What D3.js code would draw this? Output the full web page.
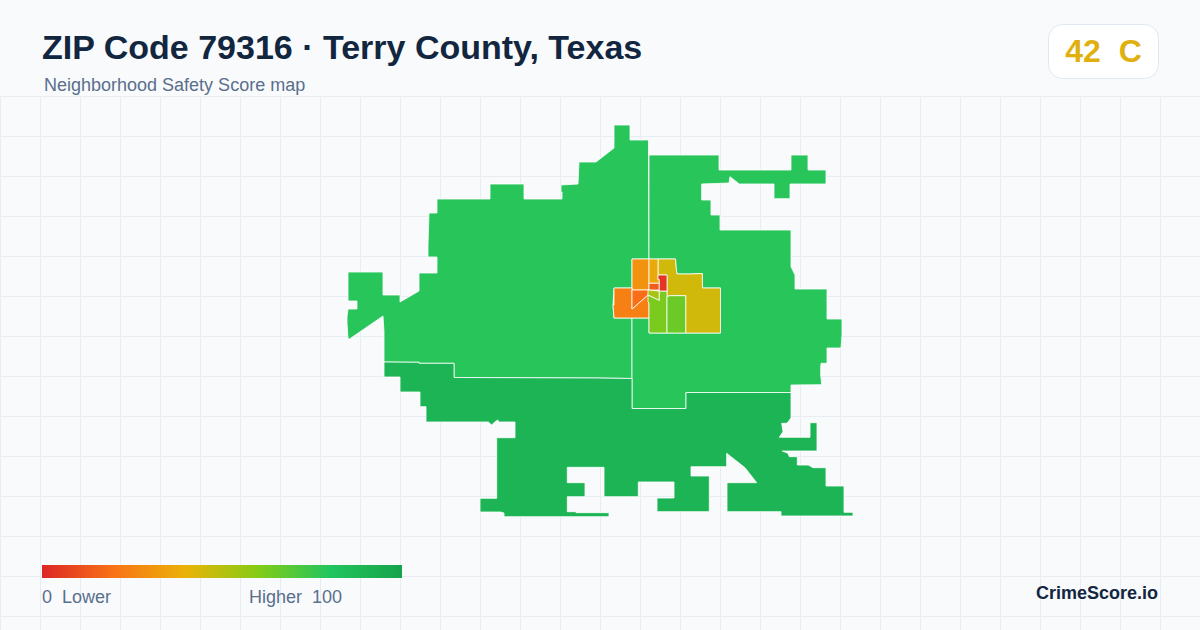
<!DOCTYPE html>
<html>
<head>
<meta charset="utf-8">
<script src="https://cdn.jsdelivr.net/npm/d3@7"></script>
<style>
html, body { margin: 0; padding: 0; background: #f8fafc; }
svg { display: block; font-family: "Liberation Sans", Arial, sans-serif; }
text { white-space: pre; }
</style>
</head>
<body>
<svg id="board" width="1200" height="630"></svg>
<script>
// map rings are in map units, tract score 0-100
let northWest = [[84,262],[84,232],[83,216],[49.5,239],[48,238.5],[47,223],[47,217],[48,209],[57,209],[57,201],[48,201],[48,172],[83,172],[83,195],[100,195],[100,202],[119,191],[119,173],[137,173],[137,157],[128,157],[128,145],[129,113],[137,113],[137,99],[190,99],[190,84],[224,84],[224,99],[262,99],[262,92],[261,92],[261,85],[278,84],[279,62],[296,62],[314,48],[314,25],[330,25],[330,40],[348.5,40],[348.5,55],[349,159],[332,159],[332,188],[314,188],[313,205],[314,218],[332,218],[332,278.5],[297,278],[154,277.5],[154,263.3],[119,263.3],[119,262.3]]
let east = [[349,55],[419,55],[419,70],[491,70],[491,55],[508,55],[508,70],[526,70],[526,84],[490,84],[490,98.7],[474,98.7],[474,84],[439.3,84],[430,76.7],[429,83],[401.7,84],[401.7,100],[411,100],[411,115],[420,115],[420,130],[491,130],[491,166.7],[495,175],[495,189],[527,189],[527,219],[542,219],[542,235],[541,248],[527,248],[527,263.3],[521,263.3],[520.7,268],[520.7,275],[521.7,284.7],[491,285],[491,292.5],[386,292.5],[386,308.5],[332,308.5],[332,218],[349,218],[349,233],[420.5,233],[420.5,188],[402.5,188],[402.3,173.5],[390,174],[377,174],[376,167],[375.5,159],[349,159]]
let south = [[84,262],[119,262.3],[119,263.3],[154,263.3],[154,277.5],[297,278],[332,278.5],[332,308.5],[386,308.5],[386,292.5],[491,292.5],[491,318],[487,323.3],[481.7,323.3],[483,331.7],[479.3,337.3],[510,337.3],[510,322.7],[517,322.7],[517,351],[482.3,351],[488,353.3],[489.3,356.7],[497.3,356.7],[497.3,365],[508.3,365],[513,367.7],[526,367.7],[526,386],[544,386],[544,412.3],[553,412.3],[553,416],[481,416],[481,411.7],[427,411.7],[427,382.7],[456.7,382.7],[445,367.7],[426.7,353.3],[426.7,366.7],[391,366.7],[391,376],[409.3,376],[409.3,411.7],[357,411.7],[357,398],[374,398],[374,382],[338.3,382],[338.3,396.7],[304,396.7],[304,367.3],[267.3,367.3],[267.3,382.7],[285,382.7],[285,396.7],[267.3,396.7],[267.3,411.7],[276,411.7],[276,412.7],[309,412.7],[309,416.7],[204,416.7],[204,413],[200.7,412],[180,412],[180,398.3],[196.7,398.3],[196.7,337.7],[215,337.7],[215,322],[198.3,322],[198,320],[195,321.7],[191.7,325],[188.3,322],[126,322],[126,306.7],[120,306.7],[120,292],[100,292],[100,277],[84,277]]
let upperOrange = [[332,159],[349,159],[349,190],[332,190]]
let westOrange = [[314,188],[332,188],[332,209],[348,195],[349,197],[349,218],[314,218],[313,205],[314,205]]
let darkOrange = [[332,190],[349,190],[348,195],[332,209]]
let narrowYellow = [[349,159],[358,159],[358,179.5],[359.3,179.5],[359.3,183.3],[349,183.3]]
let smallRed = [[349,183.3],[359.3,183.3],[359.3,190],[349,190]]
let core = [[358,175],[367,175],[367,191],[359.3,191],[359.3,179.5],[358,179.5]]
let yellowGreen = [[348,190],[359.3,191],[359.3,200.5],[349,195.5],[348,196]]
let midGreen = [[349,233],[367,233],[367,191],[359.3,191],[359.3,200.5],[349,195.5],[348,196],[348,202],[349,203]]
let lime = [[367,233],[385.7,233],[385.7,195.7],[370,195.7],[367,196.5]]
let olive = [[358,159],[375.5,159],[376,167],[377,174],[390,174],[402.3,173.5],[402.5,188],[420.5,188],[420.5,233],[385.7,233],[385.7,195.7],[370,195.7],[367,196.5],[367,175],[358,175]]

let tractRings = [northWest, east, south, olive, upperOrange, westOrange, darkOrange, narrowYellow, smallRed, yellowGreen, midGreen, lime, core]
let tractScores = [79, 79, 90, 45, 30, 24, 19, 37, 14, 53, 62, 65, 4]

let scoreStops = [0, 20, 40, 60, 80, 100]
let stopColors = ['#dc2626', '#f97316', '#eab308', '#84cc16', '#22c55e', '#16a34a']

let titleText = 'ZIP Code 79316 · Terry County, Texas'
let subtitleText = 'Neighborhood Safety Score map'
let badgeText = '42  C'

let board = d3.select('#board')
let xScale = d3.scaleLinear().domain([0, 600]).range([300, 900])
let yScale = d3.scaleLinear().domain([0, 450]).range([100, 550])
let colorScale = d3.scaleLinear().domain(scoreStops).range(stopColors)
let ringPath = d3.line()
    .x((p) => xScale(p[0]))
    .y((p) => yScale(p[1]))
    .curve(d3.curveLinearClosed)

let defs = board.append('defs')

let grid = defs.append('pattern')
    .attr('id', 'grid')
    .attr('width', 40)
    .attr('height', 40)
    .attr('patternUnits', 'userSpaceOnUse')
    .attr('y', 96)
grid.append('path')
    .attr('d', 'M40 0.5H0.5V40')
    .attr('fill', 'none')
    .attr('stroke', '#e7edf2')
    .attr('stroke-width', 1)

let ramp = defs.append('linearGradient').attr('id', 'ramp')
ramp.selectAll('stop')
    .data(scoreStops)
    .enter()
    .append('stop')
    .attr('offset', (s) => s + '%')
    .attr('stop-color', (s) => colorScale(s))

board.append('rect').attr('width', 1200).attr('height', 630).attr('fill', '#f8fafc')
board.append('rect').attr('y', 96).attr('width', 1200).attr('height', 534).attr('fill', 'url(#grid)')

board.append('g')
    .selectAll('path')
    .data(tractRings)
    .enter()
    .append('path')
    .attr('d', (r) => ringPath(r))
    .attr('fill', (r, i) => colorScale(tractScores[i]))
    .attr('stroke', '#ffffff')
    .attr('stroke-width', 0.8)
    .attr('stroke-linejoin', 'miter')

board.append('text')
    .attr('x', 42)
    .attr('y', 59)
    .attr('font-size', 34)
    .attr('font-weight', 700)
    .attr('fill', '#12263f')
    .text(titleText)

board.append('text')
    .attr('x', 44)
    .attr('y', 91)
    .attr('font-size', 18)
    .attr('fill', '#5a6f8c')
    .text(subtitleText)

board.append('rect')
    .attr('x', 1048.5)
    .attr('y', 24.5)
    .attr('width', 110)
    .attr('height', 54)
    .attr('rx', 14)
    .attr('fill', '#ffffff')
    .attr('stroke', '#e2e8f0')

board.append('text')
    .attr('x', 1103.5)
    .attr('y', 62)
    .attr('text-anchor', 'middle')
    .attr('font-size', 32)
    .attr('font-weight', 700)
    .attr('fill', '#e0b00f')
    .text(badgeText)

let legendScale = d3.scaleLinear().domain([0, 100]).range([42, 402])

board.append('rect')
    .attr('x', legendScale(0))
    .attr('y', 565)
    .attr('width', legendScale(100) - legendScale(0))
    .attr('height', 13)
    .attr('fill', 'url(#ramp)')

board.append('text')
    .attr('x', 42)
    .attr('y', 603)
    .attr('font-size', 18)
    .attr('fill', '#5a6f8c')
    .text('0  Lower')

board.append('text')
    .attr('x', 342)
    .attr('y', 603)
    .attr('text-anchor', 'end')
    .attr('font-size', 18)
    .attr('fill', '#5a6f8c')
    .text('Higher  100')

board.append('text')
    .attr('x', 1158)
    .attr('y', 599)
    .attr('text-anchor', 'end')
    .attr('font-size', 18)
    .attr('font-weight', 700)
    .attr('fill', '#12263f')
    .text('CrimeScore.io')
</script>
</body>
</html>
